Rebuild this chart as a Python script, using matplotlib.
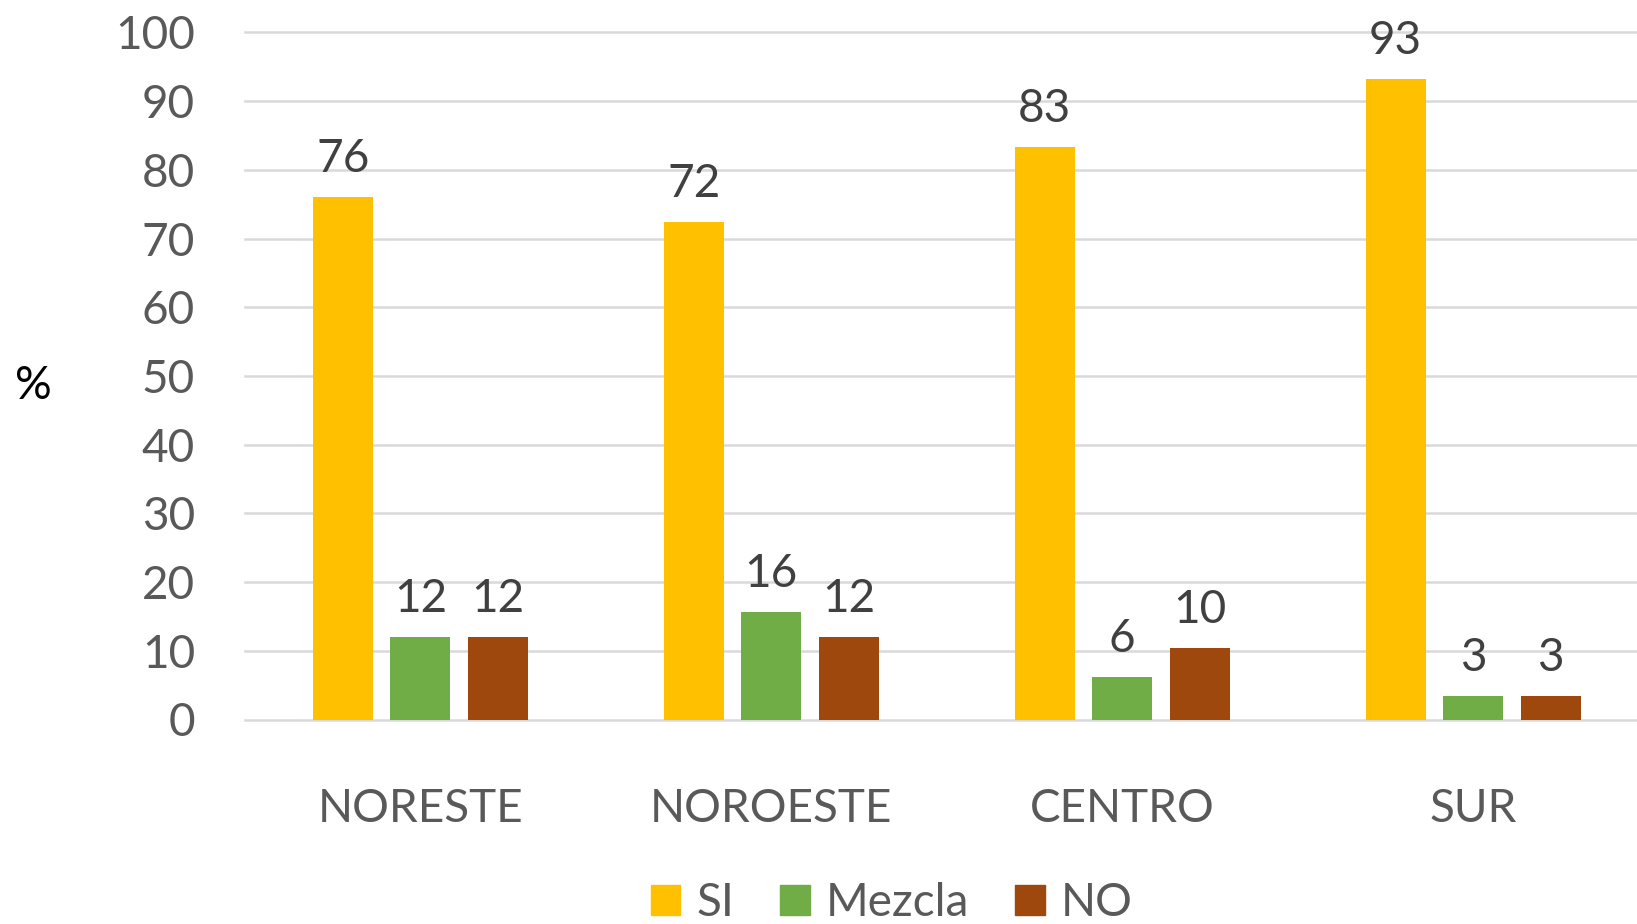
import matplotlib.pyplot as plt
from matplotlib.patches import Patch
import numpy as np

# data
regiones = ["NORESTE", "NOROESTE", "CENTRO", "SUR"]
series = ["SI", "Mezcla", "NO"]
si = [76.0, 72.4, 83.3, 93.2]
mezcla = [12.0, 15.6, 6.2, 3.4]
no = [12.0, 12.0, 10.4, 3.4]
colores = ["#FFC000", "#70AD47", "#9E480E"]

plt.rcParams["font.family"] = ["Lato", "DejaVu Sans"]
fs = 33

fig = plt.figure(figsize=(16.37, 9.24), dpi=100)
ax = fig.add_axes([245 / 1637, 204.5 / 924, 1403.5 / 1637, 687 / 924])

x = np.arange(len(regiones))
offset = 0.221
width = 0.171
for i, (vals, col) in enumerate(zip([si, mezcla, no], colores)):
    bars = ax.bar(x + (i - 1) * offset, vals, width, color=col, zorder=3)
    for b, v in zip(bars, vals):
        ax.annotate(f"{v:.0f}", (b.get_x() + b.get_width() / 2, v),
                    xytext=(0, 18), textcoords="offset points",
                    ha="center", va="baseline", fontsize=fs, color="#404040")

ax.set_xlim(-0.5, 3.5)
ax.set_ylim(0, 100)
ax.set_yticks(range(0, 101, 10))
ax.set_xticks(x)
ax.set_xticklabels(regiones)
ax.tick_params(axis="both", length=0, labelsize=fs, colors="#595959")
ax.tick_params(axis="x", pad=49)
ax.tick_params(axis="y", pad=36)
ax.yaxis.grid(True, color="#D9D9D9", linewidth=1.8, zorder=0)
for gl in ax.get_ygridlines():
    gl.set_clip_on(False)
for s in ax.spines.values():
    s.set_visible(False)

fig.text(33 / 1637, 1 - 386 / 924, "%", fontsize=fs, color="black",
         ha="center", va="center")

handles = [Patch(color=c, label=s) for c, s in zip(colores, series)]
leg = fig.legend(handles=handles, loc="center", bbox_to_anchor=(0.5447, 1 - 903 / 924),
                 ncol=3, frameon=False, fontsize=fs, handlelength=0.65, handleheight=0.65,
                 handletextpad=0.35, columnspacing=1.0, borderpad=0)
for t in leg.get_texts():
    t.set_color("#595959")

fig.savefig("out.png", dpi=100)
